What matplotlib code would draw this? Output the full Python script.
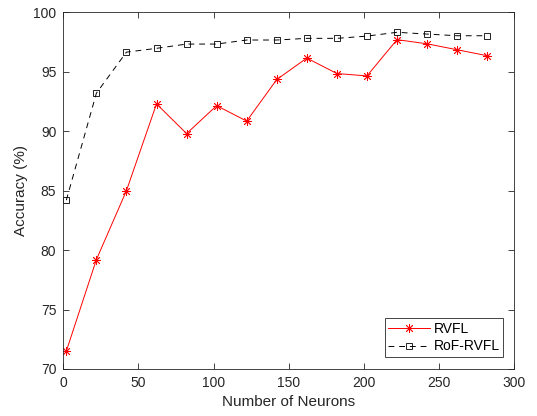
import matplotlib
matplotlib.use("Agg")
import matplotlib.pyplot as plt

neurons = [2, 22, 42, 62, 82, 102, 122, 142, 162, 182, 202, 222, 242, 262, 282]
rvfl = [71.5, 79.2, 85.0, 92.3, 89.8, 92.15, 90.85, 94.35, 96.15, 94.85, 94.65, 97.7, 97.35, 96.85, 96.35]
rof_rvfl = [84.2, 93.2, 96.65, 96.97, 97.33, 97.33, 97.67, 97.67, 97.81, 97.81, 98.0, 98.32, 98.17, 98.03, 98.03]

plt.rcParams['font.family'] = ['Liberation Sans', 'DejaVu Sans']

fig = plt.figure(figsize=(5.37, 4.16), dpi=100)
ax = fig.add_axes([0.1179, 0.1130, 0.9577 - 0.1179, 0.9704 - 0.1130])

ax.plot(neurons, rvfl, color='red', linewidth=0.7, marker=(8, 2, 0),
        markersize=6.5, markeredgewidth=0.6, label='RVFL')
ax.plot(neurons, rof_rvfl, color='black', linewidth=0.7, linestyle=(0, (6, 5)),
        marker='s', markersize=5, markerfacecolor='none', markeredgewidth=0.6,
        label='RoF-RVFL')

ax.set_xlim(0, 300)
ax.set_ylim(70, 100)
ax.set_xticks([0, 50, 100, 150, 200, 250, 300])
ax.set_yticks([70, 75, 80, 85, 90, 95, 100])
ax.tick_params(direction='in', length=4, width=0.6, labelsize=10, colors='#262626',
               top=True, right=True, pad=5)
for s in ax.spines.values():
    s.set_linewidth(0.6)
    s.set_color('#262626')
ax.set_xlabel('Number of Neurons', fontsize=11, color='#262626')
ax.set_ylabel('Accuracy (%)', fontsize=11, color='#262626')

leg = ax.legend(loc='lower right', fontsize=10, frameon=True, fancybox=False,
                edgecolor='#262626', framealpha=1, borderpad=0.25,
                handlelength=3.0, handletextpad=0.3, labelspacing=0.25,
                borderaxespad=0, bbox_to_anchor=(0.976, 0.034))
leg.get_frame().set_linewidth(0.6)

fig.savefig('out.png', dpi=100)
